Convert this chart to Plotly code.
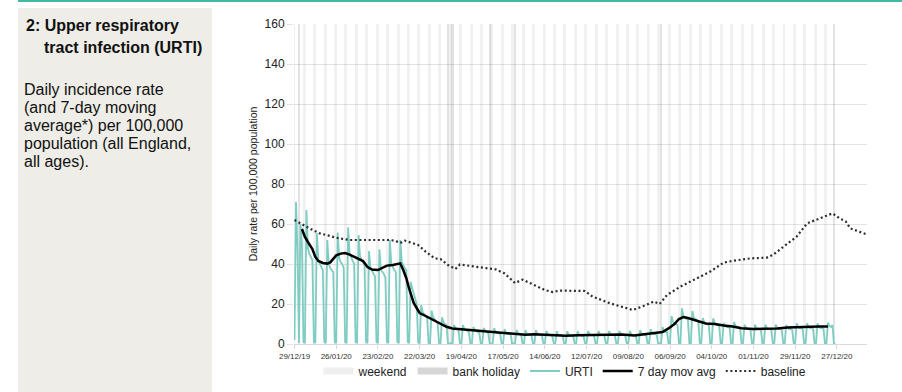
import plotly.graph_objects as go
import pandas as pd

# ---------------- data ----------------
urti_start = "2019-12-29"
# daily URTI rate, one week (Sun..Sat) per line
urti = [
    2, 71, 48, 0.5, 60, 50, 1,
    0.5, 67, 48, 45, 43, 42, 1,
    0.5, 55.5, 42, 40, 38, 37, 1,
    0.5, 52, 40, 38, 37, 36, 1,
    0.5, 55.7, 43, 41, 40, 38, 1,
    0.5, 58.3, 45, 43, 42, 40, 1,
    0.5, 54.5, 44, 42, 41, 39, 1,
    0.5, 46.5, 38, 37, 35, 34, 1,
    0.5, 47.3, 37, 36, 35, 33, 1,
    0.5, 52, 40, 38, 37, 36, 1,
    0.5, 52, 41, 39, 38, 37, 1,
    0.5, 31, 28, 25, 22, 20, 0.8,
    0.5, 19.5, 16, 15, 14, 13, 0.5,
    0.3, 16.7, 13.5, 12.5, 11.5, 10.5, 0.5,
    0.3, 13.3, 11, 10, 9.5, 0.3, 0.3,
    0.2, 0.3, 9.5, 8, 7.5, 7, 0.3,
    0.2, 9.5, 7.5, 7, 6.5, 6, 0.3,
    0.2, 8.5, 7, 6.5, 6, 5.5, 0.3,
    0.2, 8, 6.5, 6, 5.5, 0.3, 0.3,
    0.2, 8, 6, 5.5, 5.5, 5, 0.3,
    0.2, 7.5, 5.5, 5, 5, 5, 0.3,
    0.2, 0.3, 7, 5.5, 5, 5, 0.3,
    0.2, 7, 5, 5, 4.5, 4.5, 0.3,
    0.2, 7, 5, 4.5, 4.5, 4.5, 0.3,
    0.2, 6.5, 5, 4.5, 4.5, 4, 0.3,
    0.2, 6.5, 4.5, 4.5, 4.5, 4, 0.3,
    0.2, 6.5, 4.5, 4.5, 4, 4, 0.3,
    0.2, 6.5, 4.5, 4.5, 4, 4, 0.3,
    0.2, 6.5, 5, 4.5, 4.5, 4, 0.3,
    0.2, 6.5, 5, 4.5, 4.5, 4, 0.3,
    0.2, 6.5, 5, 4.5, 4.5, 4, 0.3,
    0.2, 6.5, 5, 4.5, 4.5, 4, 0.3,
    0.2, 6.5, 5, 4.5, 4.5, 4.5, 0.3,
    0.2, 7, 5, 5, 4.5, 4.5, 0.3,
    0.2, 7.5, 5.5, 5, 5, 5, 0.3,
    0.2, 0.3, 8.5, 6.5, 6, 6, 0.3,
    0.2, 14, 11, 10.5, 10, 9.5, 0.3,
    0.3, 17.8, 14, 13, 12.5, 12, 0.4,
    0.3, 16.5, 13, 12.5, 12, 11, 0.4,
    0.3, 13, 11, 10.5, 10, 9.5, 0.3,
    0.3, 12.8, 10.5, 10, 9.5, 9, 0.3,
    0.3, 10.5, 9, 8.5, 8.5, 8, 0.3,
    0.3, 11, 9, 8.5, 8.5, 8, 0.3,
    0.3, 9.7, 8, 7.5, 7.5, 7, 0.3,
    0.3, 9.7, 8, 7.5, 7.5, 7, 0.3,
    0.3, 9.7, 8, 7.5, 7.5, 7, 0.3,
    0.3, 9.7, 8, 7.5, 7.5, 7, 0.3,
    0.3, 9.5, 8, 7.5, 7.5, 7, 0.3,
    0.3, 10.3, 8.5, 8, 8, 7.5, 0.3,
    0.3, 10.3, 8.5, 8, 8, 7.5, 0.3,
    0.3, 10.3, 8.5, 8, 8, 7.5, 0.3,
    0.3, 10.7, 9, 8.5, 9.5, 0.2, 0.2,
]

mavg_dates = [
    "2020-01-03", "2020-01-05", "2020-01-07", "2020-01-10", "2020-01-12", "2020-01-14",
    "2020-01-17", "2020-01-20", "2020-01-22", "2020-01-24", "2020-01-26", "2020-01-29",
    "2020-02-01", "2020-02-04", "2020-02-07", "2020-02-10", "2020-02-13", "2020-02-16",
    "2020-02-19", "2020-02-23", "2020-02-26", "2020-02-29", "2020-03-04", "2020-03-08",
    "2020-03-09", "2020-03-11", "2020-03-13", "2020-03-15", "2020-03-17", "2020-03-18",
    "2020-03-20", "2020-03-22", "2020-03-26", "2020-03-29", "2020-04-02", "2020-04-05",
    "2020-04-09", "2020-04-13", "2020-04-19", "2020-04-27", "2020-05-05", "2020-05-12",
    "2020-05-19", "2020-05-25", "2020-06-01", "2020-06-07", "2020-06-14", "2020-06-21",
    "2020-06-28", "2020-07-06", "2020-07-16", "2020-07-26", "2020-08-05", "2020-08-13",
    "2020-08-20", "2020-08-27", "2020-09-01", "2020-09-05", "2020-09-09", "2020-09-12",
    "2020-09-15", "2020-09-18", "2020-09-22", "2020-09-26", "2020-09-30", "2020-10-06",
    "2020-10-12", "2020-10-18", "2020-10-24", "2020-11-01", "2020-11-09", "2020-11-17",
    "2020-11-24", "2020-12-01", "2020-12-08", "2020-12-15", "2020-12-21",
]
mavg = [
    57.5, 53.5, 51, 47.5, 43.5, 41.5,
    40.5, 40.2, 40.8, 42.3, 44.3, 45.2,
    45.5, 44.7, 43.6, 42.8, 41.5, 38.5,
    37.2, 37, 38, 39.2, 39.5, 40.2,
    40.3, 37, 33, 27.5, 22, 20.5,
    18, 15.5, 14, 12.8, 11, 9.8,
    8.6, 7.8, 7.4, 6.8, 6.4, 5.8,
    5.5, 4.8, 4.6, 4.9, 4.6, 4.3,
    4.1, 4.4, 4.6, 4.7, 4.7, 4.3,
    4.8, 5.3, 6, 7.8, 10, 12.5,
    13.5, 13, 12, 11, 10.3, 10,
    9.2, 8.8, 7.9, 7.5, 7.5, 7.8,
    8.2, 8.5, 8.7, 8.8, 8.8,
]

base_dates = [
    "2019-12-29", "2020-01-02", "2020-01-08", "2020-01-15", "2020-01-22", "2020-01-28",
    "2020-02-04", "2020-02-17", "2020-03-02", "2020-03-06", "2020-03-09", "2020-03-12",
    "2020-03-17", "2020-03-21", "2020-03-26", "2020-04-01", "2020-04-05", "2020-04-10",
    "2020-04-15", "2020-04-18", "2020-04-28", "2020-05-12", "2020-05-18", "2020-05-25",
    "2020-05-30", "2020-06-07", "2020-06-14", "2020-06-19", "2020-06-24", "2020-07-11",
    "2020-07-16", "2020-07-28", "2020-08-12", "2020-08-21", "2020-08-26", "2020-08-30",
    "2020-09-04", "2020-09-13", "2020-09-22", "2020-10-03", "2020-10-12", "2020-10-19",
    "2020-10-30", "2020-11-10", "2020-11-14", "2020-11-21", "2020-11-30", "2020-12-07",
    "2020-12-16", "2020-12-24", "2020-12-29", "2021-01-02", "2021-01-05", "2021-01-12",
    "2021-01-16",
]
baseline = [
    62, 60.3, 57.8, 55.3, 54, 52.8,
    52, 52, 52, 51.5, 50.5, 51.7,
    50.5, 49.5, 46.2, 42.8, 42.5, 39.5,
    37.5, 39.8, 38.7, 37.3, 35.3, 30.5,
    32.2, 29.5, 27, 26, 26.7, 26.5,
    23.7, 20.3, 17, 19.5, 21.2, 20,
    24.5, 28.7, 32, 36.2, 40.7, 41.7,
    42.8, 43.2, 44.5, 48.7, 53.7, 60.3,
    62.8, 65.3, 62.8, 61.2, 57.8, 55.8,
    54.8,
]

bank_holidays = ["2020-01-01", "2020-04-10", "2020-04-13", "2020-05-08",
                 "2020-05-25", "2020-08-31", "2020-12-25"]
weekend_first_sat = "2019-12-28"
weekend_last_sat = "2020-12-19"

tick_dates = ["2019-12-29", "2020-01-26", "2020-02-23", "2020-03-22", "2020-04-19",
              "2020-05-17", "2020-06-14", "2020-07-12", "2020-08-09", "2020-09-06",
              "2020-10-04", "2020-11-01", "2020-11-29", "2020-12-27"]
tick_labels = ["29/12/19", "26/01/20", "23/02/20", "22/03/20", "19/04/20", "17/05/20",
               "14/06/20", "12/07/20", "09/08/20", "06/09/20", "04/10/20", "01/11/20",
               "29/11/20", "27/12/20"]
y_ticks = [0, 20, 40, 60, 80, 100, 120, 140, 160]

# ---------------- layout geometry ----------------
W_PX, H_PX = 902, 392
L, R, T, B = 294, 867, 24, 344
PW, PH = R - L, B - T


def px(x):
    return (x - L) / PW


def py(y):
    return (B - y) / PH


DAY_MS = 86400000
FONT = "Liberation Sans, Arial, sans-serif"

urti_dates = pd.date_range(urti_start, periods=len(urti), freq="D")
sats = pd.date_range(weekend_first_sat, weekend_last_sat, freq="7D")
weekend_x = [d + pd.Timedelta(hours=12) for d in sats]
bh_x = pd.to_datetime(bank_holidays)

fig = go.Figure()

fig.add_trace(go.Bar(x=weekend_x, y=[160] * len(weekend_x), width=2 * DAY_MS,
                     marker=dict(color="rgba(0,0,0,0.055)", line=dict(width=0)),
                     showlegend=False, hoverinfo="skip"))
fig.add_trace(go.Bar(x=bh_x, y=[160] * len(bh_x), width=1.5 * DAY_MS,
                     marker=dict(color="rgba(0,0,0,0.11)", line=dict(width=0)),
                     showlegend=False, hoverinfo="skip"))

# legend entries for the shaded bands
fig.add_trace(go.Scatter(x=[None], y=[None], mode="lines", name="weekend",
                         line=dict(color="#efefef", width=7), legendrank=1))
fig.add_trace(go.Scatter(x=[None], y=[None], mode="lines", name="bank holiday",
                         line=dict(color="#d6d6d6", width=7), legendrank=2))

fig.add_trace(go.Scatter(x=urti_dates, y=urti, mode="lines", name="URTI",
                         line=dict(color="#7fcdc2", width=1.8), legendrank=3))
fig.add_trace(go.Scatter(x=pd.to_datetime(mavg_dates), y=mavg, mode="lines",
                         name="7 day mov avg", line=dict(color="#000000", width=2.5),
                         legendrank=4))
fig.add_trace(go.Scatter(x=pd.to_datetime(base_dates), y=baseline, mode="lines",
                         name="baseline",
                         line=dict(color="#2e2e2e", width=2.2, dash="2px,2.6px"),
                         legendrank=5))

shapes = [
    dict(type="rect", xref="paper", yref="paper", x0=px(18), x1=px(212),
         y0=py(400), y1=py(8), fillcolor="#eeede7", line=dict(width=0), layer="below"),
    dict(type="rect", xref="paper", yref="paper", x0=px(18), x1=px(905),
         y0=py(2), y1=py(-1), fillcolor="#45b7a2", line=dict(width=0), layer="above"),
]

annotations = []
for txt, x, y, bold in [("2: Upper respiratory", 24, 25, True),
                        ("tract infection (URTI)", 42, 47, True),
                        ("Daily incidence rate", 22, 89, False),
                        ("(and 7-day moving", 22, 107, False),
                        ("average*) per 100,000", 22, 125, False),
                        ("population (all England,", 22, 143, False),
                        ("all ages).", 22, 161, False)]:
    annotations.append(dict(text=f"<b>{txt}</b>" if bold else txt, xref="paper", yref="paper",
                            x=px(x), y=py(y), xanchor="left", yanchor="middle",
                            showarrow=False,
                            font=dict(family=FONT, size=16, color="#111111")))

fig.update_layout(
    width=W_PX, height=H_PX,
    margin=dict(l=L, r=W_PX - R, t=T, b=H_PX - B, pad=0, autoexpand=False),
    paper_bgcolor="white", plot_bgcolor="white",
    barmode="overlay", bargap=0,
    font=dict(family=FONT, color="#222222"),
    shapes=shapes, annotations=annotations,
    legend=dict(orientation="h", x=px(565), xanchor="center", y=py(371),
                yanchor="middle", font=dict(size=12, color="#222222"),
                bgcolor="rgba(0,0,0,0)", traceorder="normal"),
    xaxis=dict(type="date", range=["2019-12-28 16:00", "2021-01-16 05:00"],
               tickmode="array", tickvals=tick_dates, ticktext=tick_labels,
               tickfont=dict(size=8, color="#333333"), tickangle=0,
               showgrid=False, zeroline=False, showline=True, linecolor="#d9d9d9",
               ticks="outside", ticklen=4, tickcolor="#d9d9d9"),
    yaxis=dict(range=[0, 160], tickmode="array", tickvals=y_ticks,
               showgrid=True, gridcolor="#e3e3e3", gridwidth=1, zeroline=False,
               showline=False, ticks="outside", ticklen=6, tickcolor="#e3e3e3",
               tickfont=dict(size=12, color="#222222"),
               title=dict(text="Daily rate per 100,000 population",
                          font=dict(size=10.5, color="#222222"), standoff=4)),
)

fig.write_html("out.html", config={"displayModeBar": False},
               post_script="document.body.style.margin='0';document.body.style.overflow='hidden';")
